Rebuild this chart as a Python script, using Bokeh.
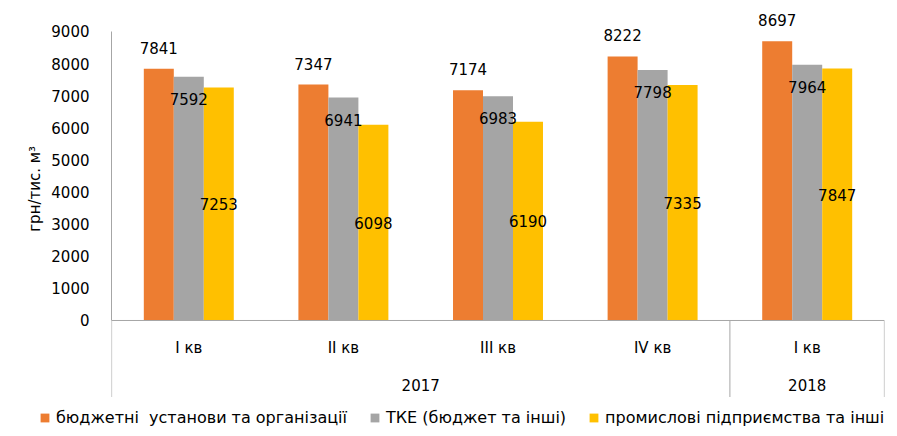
import numpy as np
from bokeh.plotting import figure
from bokeh.layouts import row
from bokeh.models import (FactorRange, ColumnDataSource, Span, Legend, LegendItem,
                          Label, LabelSet, FixedTicker, Range1d)
from bokeh.transform import dodge
from bokeh.core.properties import value
from bokeh.embed import file_html
from bokeh.resources import INLINE

# ---- data ----
years = ["2017", "2017", "2017", "2017", "2018"]
quarters = ["I кв", "II кв", "III кв", "IV кв", "I кв"]
budget = [7841, 7347, 7174, 8222, 8697]
tke = [7592, 6941, 6983, 7798, 7964]
industry = [7253, 6098, 6190, 7335, 7847]
series_names = ["бюджетні  установи та організації",
                "ТКЕ (бюджет та інші)",
                "промислові підприємства та інші"]
year_labels = ["2017", "2018"]
y_ticks = [0, 1000, 2000, 3000, 4000, 5000, 6000, 7000, 8000, 9000]
y_label = "грн/тис. м³"

# ---- style ----
FONT = "DejaVu Sans"
FS = "15px"
AX = "#a6a6a6"
COLORS = ["#ED7D31", "#A5A5A5", "#FFC000"]
Y_TOP = 9716
Y_BOTTOM = -2398
W = 0.194
LW = 45  # width of the strip that holds the y-axis title

factors = list(zip(years, quarters))
src = ColumnDataSource(dict(
    x=factors, q=quarters,
    budget=budget, tke=tke, industry=industry,
    industry_mid=np.array(industry) / 2.0,
    budget_t=[str(v) for v in budget],
    tke_t=[str(v) for v in tke],
    industry_t=[str(v) for v in industry],
))
yr = Range1d(Y_BOTTOM, Y_TOP)

p = figure(x_range=FactorRange(factors=factors, factor_padding=0, group_padding=0,
                               range_padding=0),
           y_range=yr,
           width=897 - LW, height=397, output_backend="svg", toolbar_location=None,
           min_border_left=111 - LW, min_border_right=13, min_border_top=8,
           min_border_bottom=0)
p.outline_line_color = None
p.grid.visible = False
p.xaxis.visible = False

ya = p.yaxis[0]
ya.ticker = FixedTicker(ticks=y_ticks)
ya.bounds = (0, 9000)
ya.minor_tick_line_color = None
ya.major_tick_line_color = None
ya.axis_line_color = AX
ya.major_label_standoff = 16
ya.major_label_text_font = FONT
ya.major_label_text_font_size = FS
ya.major_label_text_color = "#000000"

# bars
r1 = p.vbar(x=dodge("x", -W, range=p.x_range), top="budget", width=W, source=src,
            fill_color=COLORS[0], line_color=None)
r2 = p.vbar(x=dodge("x", 0, range=p.x_range), top="tke", width=W, source=src,
            fill_color=COLORS[1], line_color=None)
r3 = p.vbar(x=dodge("x", W, range=p.x_range), top="industry", width=W, source=src,
            fill_color=COLORS[2], line_color=None)

# data labels
common = dict(source=src, text_font=value(FONT), text_font_size=FS, text_color="#000000",
              text_align="center", text_baseline="middle")
p.add_layout(LabelSet(x=dodge("x", -W, range=p.x_range), y="budget", text="budget_t",
                      y_offset=21, **common))
p.add_layout(LabelSet(x=dodge("x", 0, range=p.x_range), y="tke", text="tke_t",
                      y_offset=-22, **common))
p.add_layout(LabelSet(x=dodge("x", W, range=p.x_range), y="industry_mid", text="industry_t",
                      **common))

# multi-level category axis drawn below the zero line
p.add_layout(Span(location=0, dimension="width", line_color=AX, line_width=1))
sep_f = [("2017", "I кв"), ("2017", "IV кв"), ("2018", "I кв")]
sep_d = [-0.4993, 0.5, 0.4993]
sep = ColumnDataSource(dict(xs=[(f[0], f[1], d) for f, d in zip(sep_f, sep_d)],
                            y0=[0, 0, 0], y1=[Y_BOTTOM] * 3))
p.segment(x0="xs", x1="xs", y0="y0", y1="y1", source=sep, line_color=AX, line_width=1)
p.text(x="x", y=-850, text="q", source=src, text_font=value(FONT), text_font_size=FS,
       text_color="#000000", text_align="center", text_baseline="middle")
ysrc = ColumnDataSource(dict(x=year_labels, t=year_labels))
p.text(x="x", y=-2024, text="t", source=ysrc, text_font=value(FONT), text_font_size=FS,
       text_color="#000000", text_align="center", text_baseline="middle")

# y-axis title strip (shares the y range)
yl = figure(width=LW, height=397, output_backend="svg", toolbar_location=None,
            x_axis_type=None, y_axis_type=None, x_range=Range1d(0, LW), y_range=yr,
            min_border=0, min_border_left=0, min_border_right=0, min_border_top=8,
            min_border_bottom=0)
yl.outline_line_color = None
yl.grid.visible = False
yl.add_layout(Label(x=34, y=4100, text=y_label, angle=np.pi / 2,
                    text_align="center", text_baseline="middle",
                    text_font=FONT, text_font_size=FS, text_color="#000000"))

# legend strip below
lf = figure(width=897, height=39, output_backend="svg", toolbar_location=None,
            x_axis_type=None, y_axis_type=None, x_range=Range1d(0, 1), y_range=Range1d(0, 1),
            min_border=0, min_border_left=0, min_border_right=0, min_border_top=0,
            min_border_bottom=0)
lf.outline_line_color = None
lf.grid.visible = False
dummies = [lf.vbar(x=[-10], top=[0], width=0.1, fill_color=c, line_color=None) for c in COLORS]
legend = Legend(items=[LegendItem(label=n, renderers=[r]) for n, r in zip(series_names, dummies)],
                orientation="horizontal", location=(39, 9),
                glyph_width=11, glyph_height=11, label_standoff=6, spacing=22,
                padding=0, margin=0, border_line_color=None, background_fill_alpha=0,
                label_height=18, label_text_baseline="middle",
                label_text_font=FONT, label_text_font_size="16px", label_text_color="#000000")
lf.add_layout(legend, "center")

open("out.html", "w").write(file_html([row(yl, p, spacing=0), lf], INLINE))
